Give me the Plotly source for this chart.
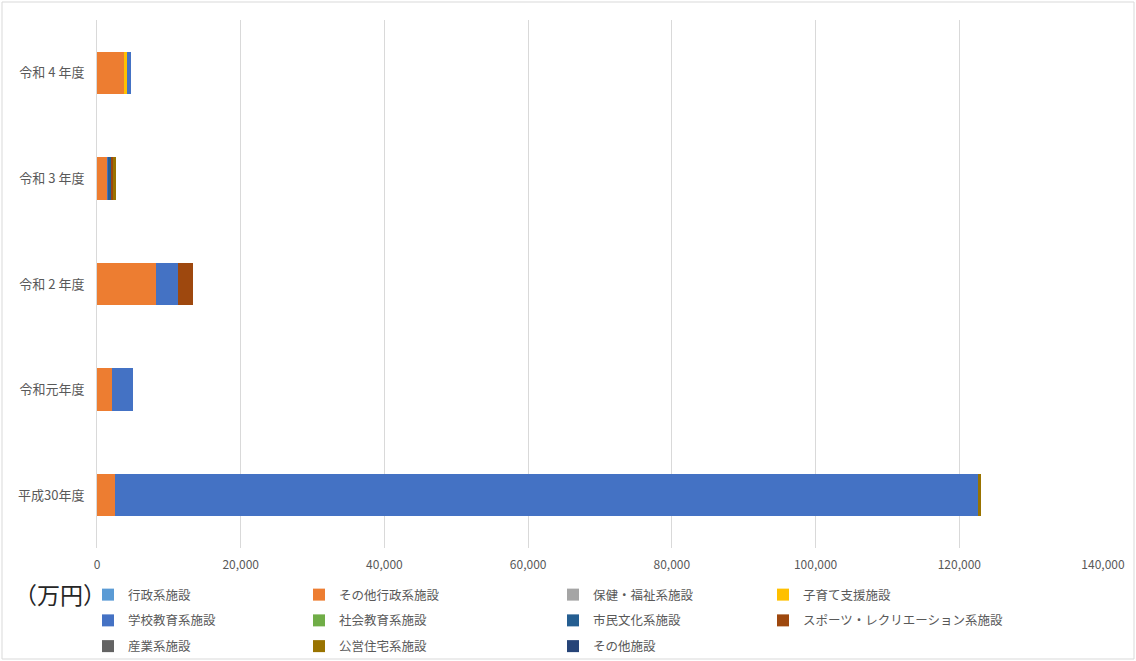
import plotly.graph_objects as go

# 年度（下から上へ）
years = ["平成30年度", "令和元年度", "令和 2 年度", "令和 3 年度", "令和 4 年度"]

# 施設類型ごとの更新費用（万円）
gyosei = [0, 0, 0, 0, 0]
sonota_gyosei = [2550, 2100, 8150, 1450, 3800]
hoken_fukushi = [0, 0, 0, 0, 0]
kosodate = [0, 0, 0, 0, 380]
gakko = [120000, 2850, 3150, 200, 560]
shakai_kyoiku = [0, 0, 0, 0, 0]
shimin_bunka = [0, 0, 0, 250, 0]
sports = [0, 0, 2100, 350, 0]
sangyo = [0, 0, 0, 0, 0]
koei_jutaku = [500, 0, 0, 450, 0]
sonota = [0, 0, 0, 0, 0]

series_names = [
    "行政系施設", "その他行政系施設", "保健・福祉系施設", "子育て支援施設",
    "学校教育系施設", "社会教育系施設", "市民文化系施設",
    "スポーツ・レクリエーション系施設", "産業系施設", "公営住宅系施設", "その他施設",
]
series_values = [
    gyosei, sonota_gyosei, hoken_fukushi, kosodate, gakko, shakai_kyoiku,
    shimin_bunka, sports, sangyo, koei_jutaku, sonota,
]
series_colors = [
    "#5B9BD5", "#ED7D31", "#A5A5A5", "#FFC000", "#4472C4", "#70AD47",
    "#255E91", "#9E480E", "#636363", "#997300", "#264478",
]
# 凡例の列（4列に振り分け）
legend_ids = ["legend", "legend2", "legend3", "legend4"]

FONT = "Noto Sans CJK JP"
GRAY = "#595959"

fig = go.Figure()
for i, (name, vals, col) in enumerate(zip(series_names, series_values, series_colors)):
    fig.add_trace(go.Bar(
        y=years, x=vals, name=name, orientation="h",
        marker=dict(color=col, line=dict(width=0)),
        legend=legend_ids[i % 4], legendgroup=name,
    ))

W, H = 1136, 661
ML, MR, MT, MB = 97, 33, 20, 113
pw, ph = W - ML - MR, H - MT - MB


def px_x(x):
    return (x - ML) / pw


def px_y(y):
    return (H - MB - y) / ph


legend_common = dict(
    orientation="v", xanchor="left", yanchor="top",
    font=dict(family=FONT, size=12.5, color=GRAY),
    bgcolor="rgba(0,0,0,0)", borderwidth=0,
    itemwidth=30, tracegroupgap=6.5, traceorder="grouped",
)
col_x = [88, 299, 553, 763]
legends = {}
for lid, cx in zip(legend_ids, col_x):
    legends[lid] = dict(legend_common, x=px_x(cx), y=px_y(580))

fig.update_layout(
    width=W, height=H,
    margin=dict(l=ML, r=MR, t=MT, b=MB, autoexpand=False),
    barmode="stack", bargap=0.6,
    plot_bgcolor="white", paper_bgcolor="white",
    font=dict(family=FONT, size=12, color=GRAY),
    xaxis=dict(
        range=[0, 140000], dtick=20000, tickformat=",",
        showgrid=True, gridcolor="#D9D9D9", gridwidth=1,
        zeroline=False, showline=False, ticks="",
        ticklabelstandoff=8,
        tickfont=dict(family=FONT, size=12, color=GRAY),
    ),
    yaxis=dict(
        type="category", categoryorder="array", categoryarray=years,
        showgrid=False, zeroline=False,
        showline=True, linecolor="#D9D9D9", linewidth=1,
        ticks="", ticklabelstandoff=9,
        tickfont=dict(family=FONT, size=13, color=GRAY),
    ),
    showlegend=True,
    **legends,
)

# 単位ラベル
fig.add_annotation(
    text="（万円）", xref="paper", yref="paper",
    x=px_x(12), y=px_y(594), xanchor="left", yanchor="middle",
    showarrow=False, font=dict(family=FONT, size=23, color="#262626"),
)

# グラフ全体の枠線
fig.add_shape(
    type="rect", xref="paper", yref="paper",
    x0=px_x(2), x1=px_x(W - 2), y0=px_y(H - 2), y1=px_y(2),
    line=dict(color="#D9D9D9", width=1), fillcolor="rgba(0,0,0,0)",
    layer="below",
)

fig.write_html("out.html")
